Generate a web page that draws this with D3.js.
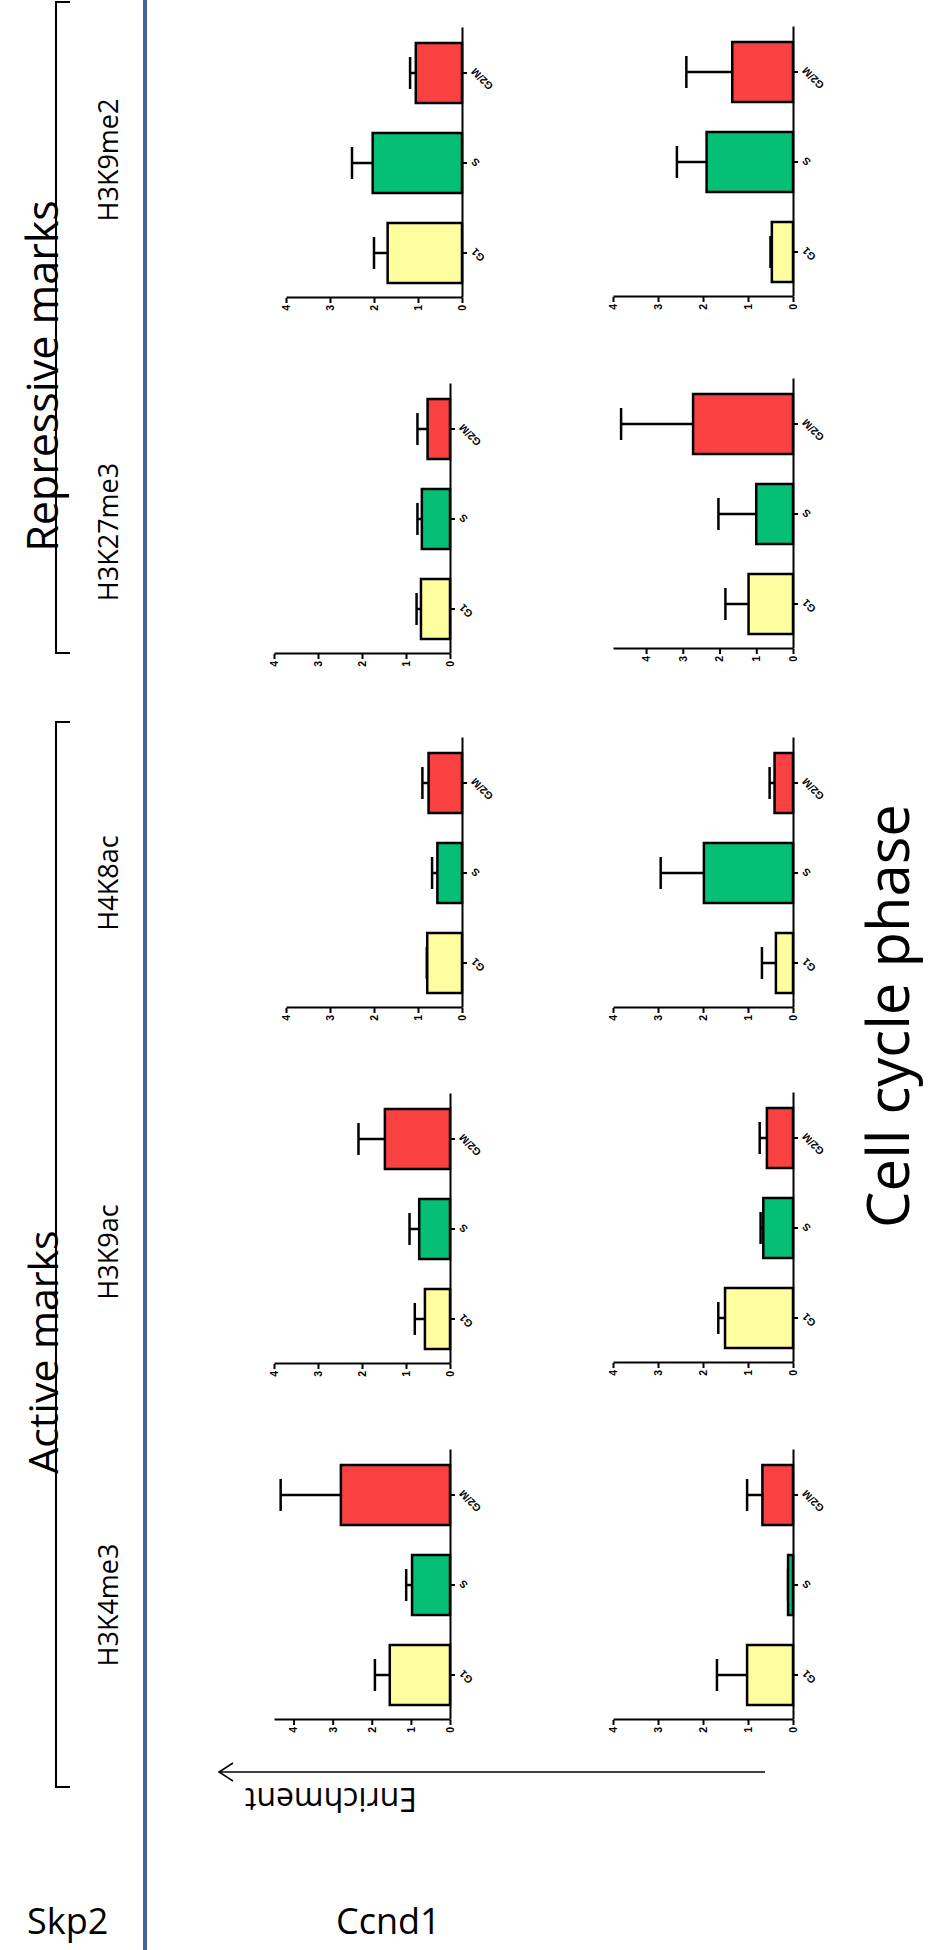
<!DOCTYPE html>
<html><head><meta charset="utf-8">
<script src="https://cdn.jsdelivr.net/npm/d3@7"></script>
<style>body{margin:0;background:#fff} svg{display:block}</style>
</head><body>
<svg id="c" width="935" height="1950"></svg>
<script>
// ---------------- data ----------------
const phases = ["G1", "S", "G2/M"];
const marks = ["H3K4me3", "H3K9ac", "H4K8ac", "H3K27me3", "H3K9me2"];
const genes = ["Skp2", "Ccnd1"];
const groups = ["Active marks", "Repressive marks"];
const yTicks = [0, 1, 2, 3, 4];
// mean enrichment per mark (rows) and phase (G1, S, G2/M)
const skp2Mean = [[1.54, 0.97, 2.79], [0.57, 0.70, 1.48], [0.79, 0.56, 0.76], [0.66, 0.64, 0.51], [1.69, 2.03, 1.05]];
const skp2Err  = [[0.38, 0.15, 1.54], [0.23, 0.22, 0.60], [0.01, 0.12, 0.14], [0.10, 0.10, 0.23], [0.31, 0.47, 0.13]];
const ccnd1Mean = [[1.02, 0.11, 0.68], [1.51, 0.66, 0.58], [0.38, 1.98, 0.41], [1.21, 1.00, 2.72], [0.47, 1.92, 1.35]];
const ccnd1Err  = [[0.67, 0.00, 0.34], [0.15, 0.06, 0.16], [0.31, 0.96, 0.11], [0.63, 1.03, 1.96], [0.03, 0.66, 1.02]];
const skp2Max = [4.5, 4, 4, 4, 4];
const ccnd1Max = [4, 4, 4, 4.9, 4];
const phaseColors = ["#FFFE9E", "#06BF77", "#F94141"];

// ---------------- drawing ----------------
const svg = d3.select("#c");
const land = svg.append("g").attr("transform", "translate(0,1950) rotate(-90)");

const rows = [
  {mean: skp2Mean, err: skp2Err, max: skp2Max, axisPage: [1720, 1364, 1008, 654, 298], base: [450, 450, 462, 450, 462], len: 176},
  {mean: ccnd1Mean, err: ccnd1Err, max: ccnd1Max, axisPage: [1720, 1363, 1008, 649, 297], base: [793, 793, 793, 793, 793], len: 180}
];

rows.forEach(r => marks.forEach((m, i) => {
  const X0 = 1950 - r.axisPage[i];
  const x = d3.scaleBand().domain(phases).range([X0, X0 + 270]).paddingInner(1 / 3).paddingOuter(1 / 6);
  const y = d3.scaleLinear().domain([0, r.max[i]]).range([r.base[i], r.base[i] - r.len]);
  const g = land.append("g");
  const data = phases.map((p, j) => ({p, v: r.mean[i][j], e: r.err[i][j], c: phaseColors[j]}));
  const cx = d => x(d.p) + x.bandwidth() / 2;
  g.selectAll("line.err").data(data).join("line").attr("class", "err")
    .attr("x1", cx).attr("x2", cx).attr("y1", d => y(d.v)).attr("y2", d => y(d.v + d.e))
    .attr("stroke", "#000").attr("stroke-width", 2.5);
  g.selectAll("line.cap").data(data).join("line").attr("class", "cap")
    .attr("x1", d => cx(d) - 16).attr("x2", d => cx(d) + 16)
    .attr("y1", d => y(d.v + d.e)).attr("y2", d => y(d.v + d.e))
    .attr("stroke", "#000").attr("stroke-width", 2.5);
  g.selectAll("rect").data(data).join("rect")
    .attr("x", d => x(d.p)).attr("width", x.bandwidth())
    .attr("y", d => y(d.v)).attr("height", d => y(0) - y(d.v))
    .attr("fill", d => d.c).attr("stroke", "#000").attr("stroke-width", 2.5);

  const ya = g.append("g").attr("transform", `translate(${X0},0)`)
    .call(d3.axisLeft(y).tickValues(yTicks).tickSize(5).tickSizeOuter(0).tickPadding(2).tickFormat(d3.format("d")));
  const xa = g.append("g").attr("transform", `translate(0,${r.base[i]})`)
    .call(d3.axisBottom(x).tickSize(5).tickSizeOuter(0).tickPadding(2));
  [ya, xa].forEach(a => {
    a.selectAll("path,line").attr("stroke", "#000").attr("stroke-width", 2);
    a.selectAll("text").attr("font-family", "Liberation Sans, Arial, sans-serif")
      .attr("font-weight", "bold").attr("font-size", 10.5).attr("fill", "#000");
  });
  xa.selectAll("text").attr("x", 0).attr("y", 0).attr("dy", "0.35em")
    .attr("text-anchor", "end").attr("transform", "translate(3,11) rotate(-45)");
}));

// ---------------- annotations (page coordinates) ----------------
const font = "'Open Sans', 'Noto Sans', sans-serif";
// blue separator
svg.append("line").attr("x1", 145).attr("x2", 145).attr("y1", 0).attr("y2", 1950)
  .attr("stroke", "#41659A").attr("stroke-width", 4);
// brackets
const brackets = [[722, 1787], [2, 653]];
svg.selectAll("path.br").data(brackets).join("path").attr("class", "br")
  .attr("d", d => `M70,${d[0]}H56V${d[1]}H70`)
  .attr("fill", "none").attr("stroke", "#000").attr("stroke-width", 2);
// group titles
const groupCenters = [1352, 376];
const groupSizes = [41, 43];
groups.forEach((t, k) => {
  svg.append("text").attr("transform", `translate(58,${groupCenters[k]}) rotate(-90)`)
    .attr("text-anchor", "middle").attr("font-family", font).attr("font-size", groupSizes[k]).text(t);
});
// histone mark labels
const markLabelY = [1605, 1252, 883, 532, 160];
marks.forEach((t, i) => {
  svg.append("text").attr("transform", `translate(118,${markLabelY[i]}) rotate(-90)`)
    .attr("text-anchor", "middle").attr("font-family", font).attr("font-size", 27).text(t);
});
// Enrichment arrow
svg.append("line").attr("x1", 219).attr("x2", 765).attr("y1", 1772).attr("y2", 1772)
  .attr("stroke", "#000").attr("stroke-width", 1.5);
svg.append("path").attr("d", "M233,1763L219,1772L233,1781").attr("fill", "none")
  .attr("stroke", "#000").attr("stroke-width", 1.5);
svg.append("text").attr("transform", "translate(331,1788) rotate(180)")
  .attr("text-anchor", "middle").attr("font-family", font).attr("font-size", 32).text("Enrichment");
// gene labels
const geneX = [27, 336];
genes.forEach((t, k) => {
  svg.append("text").attr("x", geneX[k]).attr("y", 1934).attr("font-family", font)
    .attr("font-size", 36).text(t);
});
// x title
svg.append("text").attr("transform", "translate(909,1016) rotate(-90)")
  .attr("text-anchor", "middle").attr("font-family", font).attr("font-size", 58).text("Cell cycle phase");
</script>
</body></html>
